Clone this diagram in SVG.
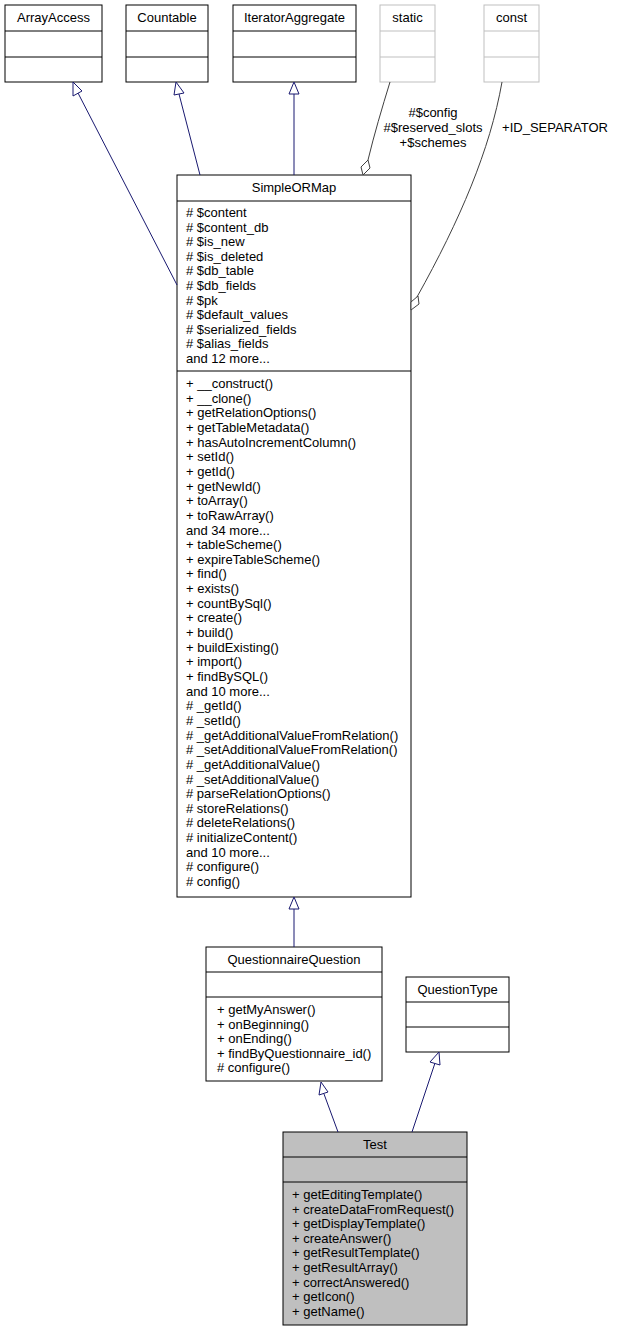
<svg xmlns="http://www.w3.org/2000/svg" width="618" height="1332" viewBox="0 0 618 1332">
<style>
text{font-family:"Liberation Sans",Arial,sans-serif;font-size:13px;fill:#000}
.c{text-anchor:middle}
.b{fill:#fff;stroke:#000;stroke-width:1}
.g{fill:#fff;stroke:#bfbfbf;stroke-width:1}
.e{fill:none;stroke:#191970;stroke-width:1}
.a{fill:none;stroke:#404040;stroke-width:1}
.h{fill:#fff;stroke:#191970}
.d{fill:#fff;stroke:#404040}
</style>
<rect width="618" height="1332" fill="#fff"/>
<g id="ArrayAccess"><rect class="b" x="5" y="5" width="97" height="77"/><path class="b" d="M5 31H102M5 57H102"/><text class="c" x="53.5" y="22">ArrayAccess</text></g>
<g id="Countable"><rect class="b" x="126" y="5" width="82" height="77"/><path class="b" d="M126 31H208M126 57H208"/><text class="c" x="167" y="22">Countable</text></g>
<g id="IteratorAggregate"><rect class="b" x="233" y="5" width="123" height="77"/><path class="b" d="M233 31H356M233 57H356"/><text class="c" x="294.5" y="22">IteratorAggregate</text></g>
<g id="static"><rect class="g" x="380" y="5" width="55" height="77"/><path class="g" d="M380 31H435M380 57H435"/><text class="c" x="407.5" y="22">static</text></g>
<g id="const"><rect class="g" x="484" y="5" width="55" height="77"/><path class="g" d="M484 31H539M484 57H539"/><text class="c" x="511.5" y="22">const</text></g>
<g id="SimpleORMap"><rect class="b" x="177" y="175" width="234" height="722"/><path class="b" d="M177 201H411M177 371H411"/><text class="c" x="294" y="192">SimpleORMap</text>
<text x="186" y="217"><tspan x="186"># $content</tspan><tspan x="186" dy="14.6"># $content_db</tspan><tspan x="186" dy="14.6"># $is_new</tspan><tspan x="186" dy="14.6"># $is_deleted</tspan><tspan x="186" dy="14.6"># $db_table</tspan><tspan x="186" dy="14.6"># $db_fields</tspan><tspan x="186" dy="14.6"># $pk</tspan><tspan x="186" dy="14.6"># $default_values</tspan><tspan x="186" dy="14.6"># $serialized_fields</tspan><tspan x="186" dy="14.6"># $alias_fields</tspan><tspan x="186" dy="14.6">and 12 more...</tspan></text>
<text x="186" y="388"><tspan x="186">+ __construct()</tspan><tspan x="186" dy="14.65">+ __clone()</tspan><tspan x="186" dy="14.65">+ getRelationOptions()</tspan><tspan x="186" dy="14.65">+ getTableMetadata()</tspan><tspan x="186" dy="14.65">+ hasAutoIncrementColumn()</tspan><tspan x="186" dy="14.65">+ setId()</tspan><tspan x="186" dy="14.65">+ getId()</tspan><tspan x="186" dy="14.65">+ getNewId()</tspan><tspan x="186" dy="14.65">+ toArray()</tspan><tspan x="186" dy="14.65">+ toRawArray()</tspan><tspan x="186" dy="14.65">and 34 more...</tspan><tspan x="186" dy="14.65">+ tableScheme()</tspan><tspan x="186" dy="14.65">+ expireTableScheme()</tspan><tspan x="186" dy="14.65">+ find()</tspan><tspan x="186" dy="14.65">+ exists()</tspan><tspan x="186" dy="14.65">+ countBySql()</tspan><tspan x="186" dy="14.65">+ create()</tspan><tspan x="186" dy="14.65">+ build()</tspan><tspan x="186" dy="14.65">+ buildExisting()</tspan><tspan x="186" dy="14.65">+ import()</tspan><tspan x="186" dy="14.65">+ findBySQL()</tspan><tspan x="186" dy="14.65">and 10 more...</tspan><tspan x="186" dy="14.65"># _getId()</tspan><tspan x="186" dy="14.65"># _setId()</tspan><tspan x="186" dy="14.65"># _getAdditionalValueFromRelation()</tspan><tspan x="186" dy="14.65"># _setAdditionalValueFromRelation()</tspan><tspan x="186" dy="14.65"># _getAdditionalValue()</tspan><tspan x="186" dy="14.65"># _setAdditionalValue()</tspan><tspan x="186" dy="14.65"># parseRelationOptions()</tspan><tspan x="186" dy="14.65"># storeRelations()</tspan><tspan x="186" dy="14.65"># deleteRelations()</tspan><tspan x="186" dy="14.65"># initializeContent()</tspan><tspan x="186" dy="14.65">and 10 more...</tspan><tspan x="186" dy="14.65"># configure()</tspan><tspan x="186" dy="14.65"># config()</tspan></text></g>
<g id="QuestionnaireQuestion"><rect class="b" x="206" y="947" width="176" height="134"/><path class="b" d="M206 972H382M206 997H382"/><text class="c" x="294" y="964">QuestionnaireQuestion</text>
<text x="217" y="1014"><tspan x="217">+ getMyAnswer()</tspan><tspan x="217" dy="14.6">+ onBeginning()</tspan><tspan x="217" dy="14.6">+ onEnding()</tspan><tspan x="217" dy="14.6">+ findByQuestionnaire_id()</tspan><tspan x="217" dy="14.6"># configure()</tspan></text></g>
<g id="QuestionType"><rect class="b" x="406" y="977" width="103" height="75"/><path class="b" d="M406 1002H509M406 1027H509"/><text class="c" x="457.5" y="994">QuestionType</text></g>
<g id="Test"><rect x="283" y="1132" width="184" height="193" fill="#bfbfbf" stroke="#000"/><path class="b" d="M283 1157H467M283 1182H467"/><text class="c" x="375" y="1149">Test</text>
<text x="292" y="1199"><tspan x="292">+ getEditingTemplate()</tspan><tspan x="292" dy="14.6">+ createDataFromRequest()</tspan><tspan x="292" dy="14.6">+ getDisplayTemplate()</tspan><tspan x="292" dy="14.6">+ createAnswer()</tspan><tspan x="292" dy="14.6">+ getResultTemplate()</tspan><tspan x="292" dy="14.6">+ getResultArray()</tspan><tspan x="292" dy="14.6">+ correctAnswered()</tspan><tspan x="292" dy="14.6">+ getIcon()</tspan><tspan x="292" dy="14.6">+ getName()</tspan></text></g>
<g id="connectors">
<path class="e" d="M177 285L78 93"/><path class="h" d="M73 82L73 96L82 91Z"/>
<path class="e" d="M200 175L179 94"/><path class="h" d="M176 82L174 95L184 93Z"/>
<path class="e" d="M294 175V94"/><path class="h" d="M294 82L289 94H299Z"/>
<path class="a" d="M390 82C382 108 374 135 368 160"/>
<path class="d" d="M363 175L361 167L368 160L370 168Z"/>
<path class="a" d="M502 82C490 150 460 220 417 297"/>
<path class="d" d="M411 310L411 302L418 296L419 304Z"/>
<text class="c" x="433" y="117">#$config</text><text class="c" x="433" y="132">#$reserved_slots</text><text class="c" x="433" y="147">+$schemes</text>
<text class="c" x="555" y="132">+ID_SEPARATOR</text>
<path class="e" d="M294 947V909"/><path class="h" d="M294 897L289 909H299Z"/>
<path class="e" d="M338 1132L324 1094"/><path class="h" d="M321 1082L319 1095L328 1092Z"/>
<path class="e" d="M412 1132L435 1063"/><path class="h" d="M439 1052L430 1062L440 1065Z"/>
</g>
</svg>
